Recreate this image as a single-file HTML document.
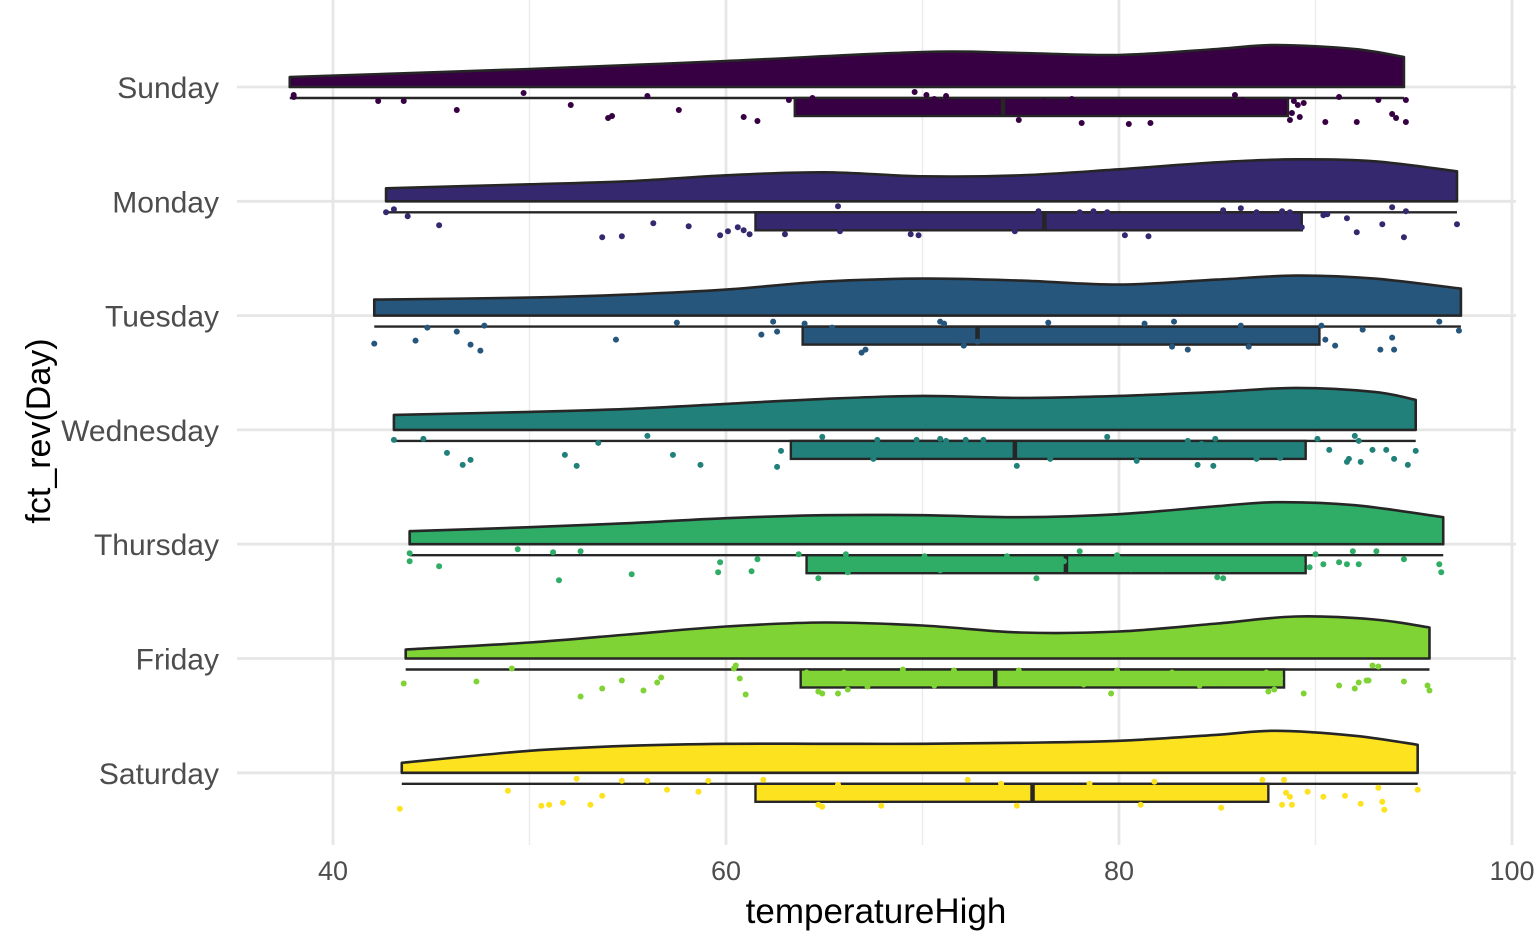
<!DOCTYPE html>
<html><head><meta charset="utf-8">
<style>
html,body{margin:0;padding:0;background:#fff;}
svg{display:block;font-family:"Liberation Sans",sans-serif;}
</style></head>
<body>
<svg id="chart" width="1536" height="949" viewBox="0 0 1536 949">
<g id="grid"></g>
<g id="marks"></g>
<g id="axes"></g>
<text x="876" y="923" text-anchor="middle" font-size="35" fill="#000">temperatureHigh</text>
<text transform="translate(50,431) rotate(-90)" text-anchor="middle" font-size="34" fill="#000">fct_rev(Day)</text>
</svg>
<script>
const days = ["Sunday","Monday","Tuesday","Wednesday","Thursday","Friday","Saturday"];
const colors = ["#360042","#35286e","#26567c","#21807a","#2fac66","#7fd334","#fde21f"];
const xTicks = [40,60,80,100];
const xMinor = [50,70,90];
const densX = [
 [37.8,50,60,70,75,80,85,88,92,94.5],
 [42.7,50,55,60,65,70,75,80,85,89,93,97.2],
 [42.1,50,55,60,65,70,75,80,85,89,93,97.4],
 [43.1,50,55,60,65,70,75,80,85,89,93,95.1],
 [43.9,50,55,60,65,70,75,80,85,88,92,96.5],
 [43.7,50,55,60,65,70,75,80,85,89,93,95.8],
 [43.5,50,55,60,65,70,75,80,85,88,92,95.2]
];
const densY = [
 [10,18,26,35,34,32,38,42,38,30],
 [13,17,20,26,29,25,26,32,39,42,40,30],
 [16,18,21,26,34,37,35,31,36,40,37,27],
 [15,18,21,26,31,34,32,34,38,42,38,30],
 [13,17,21,26,29,29,27,30,38,42,39,27],
 [9,16,24,32,36,33,26,27,35,42,39,31],
 [10,22,27,29,29,29,30,32,38,42,37,28]
];
const boxMin = [37.8,42.7,42.1,43.1,43.9,43.7,43.5];
const boxQ1 = [63.5,61.5,63.9,63.3,64.1,63.8,61.5];
const boxMed = [74.1,76.2,72.8,74.7,77.3,73.7,75.6];
const boxQ3 = [88.6,89.3,90.2,89.5,89.5,88.4,87.6];
const boxMax = [94.5,97.2,97.4,95.1,96.5,95.8,95.2];
const ptsX = [
 [38.0,38.0,42.3,43.6,46.3,49.7,52.1,54.0,54.2,56.0,57.6,60.9,61.6,63.2,63.7,64.4,64.6,69.6,70.2,70.6,71.2,74.9,76.2,77.6,78.1,80.5,81.6,85.9,86.3,88.7,88.9,89.1,89.4,88.8,89.2,90.5,91.2,92.1,93.2,93.9,94.1,94.6,94.6],
 [42.7,43.1,43.8,45.4,53.7,54.7,56.3,58.1,59.7,60.1,60.6,60.9,61.2,63.0,65.7,65.8,69.4,69.8,74.7,75.9,77.0,78.0,78.7,79.4,80.3,81.5,85.3,86.2,87.0,88.3,88.7,89.3,90.4,90.6,91.6,92.1,93.4,93.9,94.6,94.5,97.2],
 [42.1,44.2,44.8,46.3,47.0,47.5,47.7,54.4,57.5,61.8,62.4,62.6,64.0,65.4,66.9,67.1,70.9,71.1,71.8,72.1,72.8,75.6,76.4,81.3,82.7,82.8,83.5,84.3,86.2,86.6,90.3,90.5,91.0,92.4,93.3,93.9,94.0,96.3,97.3],
 [43.1,44.6,45.8,46.6,47.0,51.8,52.4,53.5,56.0,57.3,58.7,62.6,62.8,64.9,67.5,67.7,69.7,70.9,71.2,72.2,73.1,74.8,76.5,79.4,80.9,83.5,84.0,84.2,84.9,84.8,87.0,88.2,90.1,90.7,91.6,92.0,92.2,91.7,92.3,92.9,93.6,94.0,94.7,95.1],
 [43.9,43.9,45.4,49.4,51.2,51.5,52.6,55.2,59.6,59.7,61.3,61.6,63.7,64.7,66.1,66.2,70.1,70.9,74.3,75.8,77.2,78.0,79.9,80.1,80.6,81.0,82.2,85.0,85.3,89.3,89.7,90.0,90.4,91.2,91.6,92.2,91.9,93.1,94.5,96.3,96.4],
 [43.6,47.3,49.1,52.6,53.7,54.7,55.8,56.5,56.7,60.4,60.5,60.7,61.0,64.1,64.7,64.9,65.7,66.0,66.2,67.2,69.0,70.6,71.6,73.4,74.9,78.2,79.6,79.9,82.7,84.1,85.2,87.5,87.6,88.2,87.9,89.4,91.2,92.0,92.2,92.6,92.9,93.2,92.7,94.5,95.7,95.8],
 [43.4,48.9,50.6,51.0,51.7,52.4,53.1,53.7,54.7,56.0,57.0,58.6,59.1,61.9,64.7,64.9,65.7,66.0,67.9,72.3,74.0,74.8,78.5,79.6,81.1,81.8,85.2,87.3,88.3,88.5,88.7,88.8,88.4,89.6,90.4,91.5,92.3,93.4,93.5,93.2,95.2]
];
const ptsJitter = [
 [7,9,13,13,22,5,17,30,28,8,22,29,33,12,22,10,16,4,7,11,8,32,13,11,35,36,35,7,12,32,13,17,15,25,29,34,9,34,12,26,30,12,34],
 [10,7,14,23,35,34,21,24,33,29,25,28,32,32,4,29,32,33,29,9,15,10,9,10,33,34,8,6,10,9,10,25,13,12,16,30,22,5,9,35,22],
 [27,24,11,15,28,34,9,23,6,18,5,15,7,11,36,33,5,7,24,29,25,17,6,7,30,5,33,17,9,30,9,23,29,13,33,21,33,5,14],
 [9,8,22,34,29,24,35,12,5,24,34,36,20,6,28,9,9,8,10,9,9,35,28,6,30,10,34,13,8,35,28,27,8,19,31,5,10,28,31,19,19,28,34,20],
 [8,16,21,4,7,35,6,29,27,17,26,14,9,33,9,27,11,25,11,33,16,6,10,14,24,15,24,32,33,19,22,9,19,17,19,19,6,6,14,19,27],
 [24,22,9,37,29,21,31,23,18,9,6,19,35,13,32,34,34,13,30,27,10,26,11,21,11,25,34,11,13,26,18,13,32,19,30,34,26,29,23,21,6,7,21,22,26,31],
 [35,17,32,31,29,5,31,22,7,7,16,18,7,6,31,33,11,22,32,6,10,32,10,15,31,8,34,6,31,19,23,31,6,18,23,22,30,28,36,14,16]
];

const NS="http://www.w3.org/2000/svg";
const L=237,R=1516,T=0,B=845;
function xs(v){return 333+(v-40)*19.65;}
function ys(i){return 88+i*114.3;}
function mk(tag,attrs,parent){const e=document.createElementNS(NS,tag);for(const k in attrs)e.setAttribute(k,attrs[k]);parent.appendChild(e);return e;}
const grid=document.getElementById('grid'),marks=document.getElementById('marks'),axes=document.getElementById('axes');
xMinor.forEach(v=>{const l=mk('line',{x1:xs(v),x2:xs(v),y1:T,y2:B,stroke:'#ebebeb','stroke-width':1.4},grid);

});
xTicks.forEach(v=>{const l=mk('line',{x1:xs(v),x2:xs(v),y1:T,y2:B,stroke:'#e6e6e6','stroke-width':2.8},grid);


const t=mk('text',{x:xs(v),y:880,'text-anchor':'middle','font-size':27,fill:'#4d4d4d'},axes);t.textContent=v;

});
days.forEach((d,i)=>{const y=ys(i);
const l=mk('line',{x1:L,x2:R,y1:y-1,y2:y-1,stroke:'#e6e6e6','stroke-width':2.8},grid);


const t=mk('text',{x:219,y:y+10,'text-anchor':'end','font-size':30,fill:'#4d4d4d'},axes);t.textContent=d;

});

function smooth(p){let s=`M${p[0][0]},${p[0][1]}`;for(let i=0;i<p.length-1;i++){const p0=p[Math.max(0,i-1)],p1=p[i],p2=p[i+1],p3=p[Math.min(p.length-1,i+2)];
const c1=[p1[0]+(p2[0]-p0[0])/6,p1[1]+(p2[1]-p0[1])/6],c2=[p2[0]-(p3[0]-p1[0])/6,p2[1]-(p3[1]-p1[1])/6];
s+=` C${c1[0]},${c1[1]} ${c2[0]},${c2[1]} ${p2[0]},${p2[1]}`;}return s;}

days.forEach((d,i)=>{const base=ys(i)-1,c=colors[i];
const g=mk('g',{},marks);


const pts=densX[i].map((v,k)=>[xs(v),base-densY[i][k]]);
const path=smooth(pts)+` L${pts[pts.length-1][0]},${base} L${pts[0][0]},${base} Z`;
const dp=mk('path',{d:path,fill:c,stroke:'#262626','stroke-width':2.6,'stroke-linejoin':'round'},g);


const wy=base+11;
const w=mk('line',{x1:xs(boxMin[i]),x2:xs(boxMax[i]),y1:wy,y2:wy,stroke:'#262626','stroke-width':2.4},g);


const bx=mk('rect',{x:xs(boxQ1[i]),y:wy,width:xs(boxQ3[i])-xs(boxQ1[i]),height:18,fill:c,stroke:'#262626','stroke-width':2.4},g);


const md=mk('line',{x1:xs(boxMed[i]),x2:xs(boxMed[i]),y1:wy,y2:wy+18,stroke:'#262626','stroke-width':4.5},g);


ptsX[i].forEach((v,k)=>{const p=mk('circle',{cx:xs(v),cy:ys(i)+ptsJitter[i][k],r:3,fill:c},g);

});
});
</script>
</body></html>
